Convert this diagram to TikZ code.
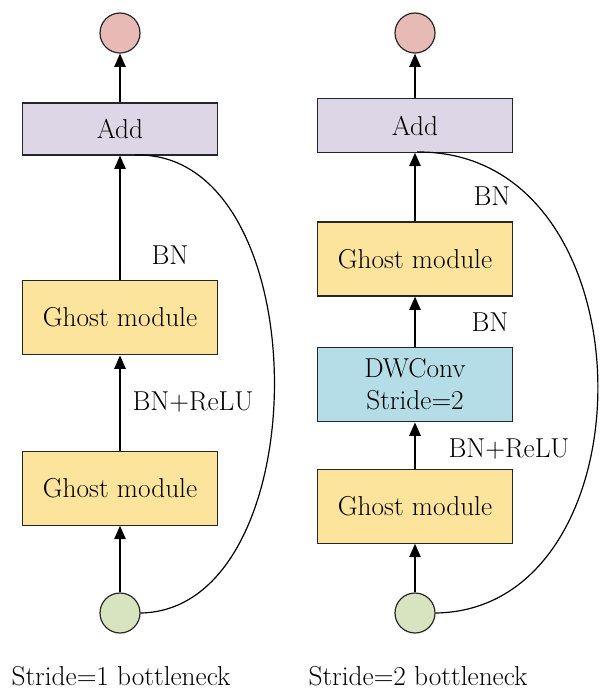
\documentclass[tikz,border=0pt]{standalone}
\usetikzlibrary{arrows.meta}
\definecolor{pinkc}{HTML}{E8BAB6}
\definecolor{addc}{HTML}{DDD6E6}
\definecolor{ghostc}{HTML}{FDE49C}
\definecolor{dwc}{HTML}{B5DDE8}
\definecolor{greenc}{HTML}{D8E4C0}
\begin{document}
\begin{tikzpicture}[x=0.75pt,y=-0.75pt,
  every node/.style={font=\fontsize{20.5}{24}\selectfont},
  blk/.style={draw=black!85, line width=0.9pt, minimum width=146pt, inner sep=0pt, align=center},
  io/.style={circle, draw=black!85, line width=0.9pt, minimum size=30pt, inner sep=0pt},
  arr/.style={line width=1.2pt, -{Triangle[length=10pt,width=8.5pt]}},
  skip/.style={line width=0.9pt},
  lbl/.style={inner sep=0pt}]
\useasboundingbox (0,0) rectangle (603,692);
% left column
\node[io, fill=pinkc] (lo) at (120,33) {};
\node[blk, fill=addc, minimum height=39pt] (ladd) at (120,129) {Add};
\node[blk, fill=ghostc, minimum height=56pt] (lg1) at (120,317.5) {Ghost module};
\node[blk, fill=ghostc, minimum height=55pt] (lg2) at (120,488.5) {Ghost module};
\node[io, fill=greenc] (li) at (120,613) {};
\node[lbl] (lbn) at (170,255) {BN};
\node[lbl] (lbnr) at (193,402) {BN+ReLU};
\node[lbl] (lcap) at (121,676) {Stride=1 bottleneck};
\draw[arr] (li) -- (lg2);
\draw[arr] (lg2) -- (lg1);
\draw[arr] (lg1) -- (ladd);
\draw[arr] (ladd) -- (lo);
\coordinate (lj) at (135,155);
\draw[skip] (li.east) .. controls (320,610) and (320,150) .. (lj);
% right column
\node[io, fill=pinkc] (ro) at (415,33) {};
\node[blk, fill=addc, minimum height=40pt] (radd) at (415,125.5) {Add};
\node[blk, fill=ghostc, minimum height=55.5pt] (rg1) at (415,259) {Ghost module};
\node[blk, fill=dwc, minimum height=56pt] (rdw) at (415,384.5) {DWConv\\Stride=2};
\node[blk, fill=ghostc, minimum height=55pt] (rg2) at (415,506.5) {Ghost module};
\node[io, fill=greenc] (ri) at (415,613) {};
\node[lbl] (rbn1) at (492,196) {BN};
\node[lbl] (rbn2) at (490,322) {BN};
\node[lbl] (rbnr) at (509,449) {BN+ReLU};
\node[lbl] (rcap) at (418,676) {Stride=2 bottleneck};
\draw[arr] (ri) -- (rg2);
\draw[arr] (rg2) -- (rdw);
\draw[arr] (rdw) -- (rg1);
\draw[arr] (rg1) -- (radd);
\draw[arr] (radd) -- (ro);
\coordinate (rj) at (417,152);
\draw[skip] (ri.east) .. controls (655,610) and (655,150) .. (rj);
\end{tikzpicture}
\end{document}
